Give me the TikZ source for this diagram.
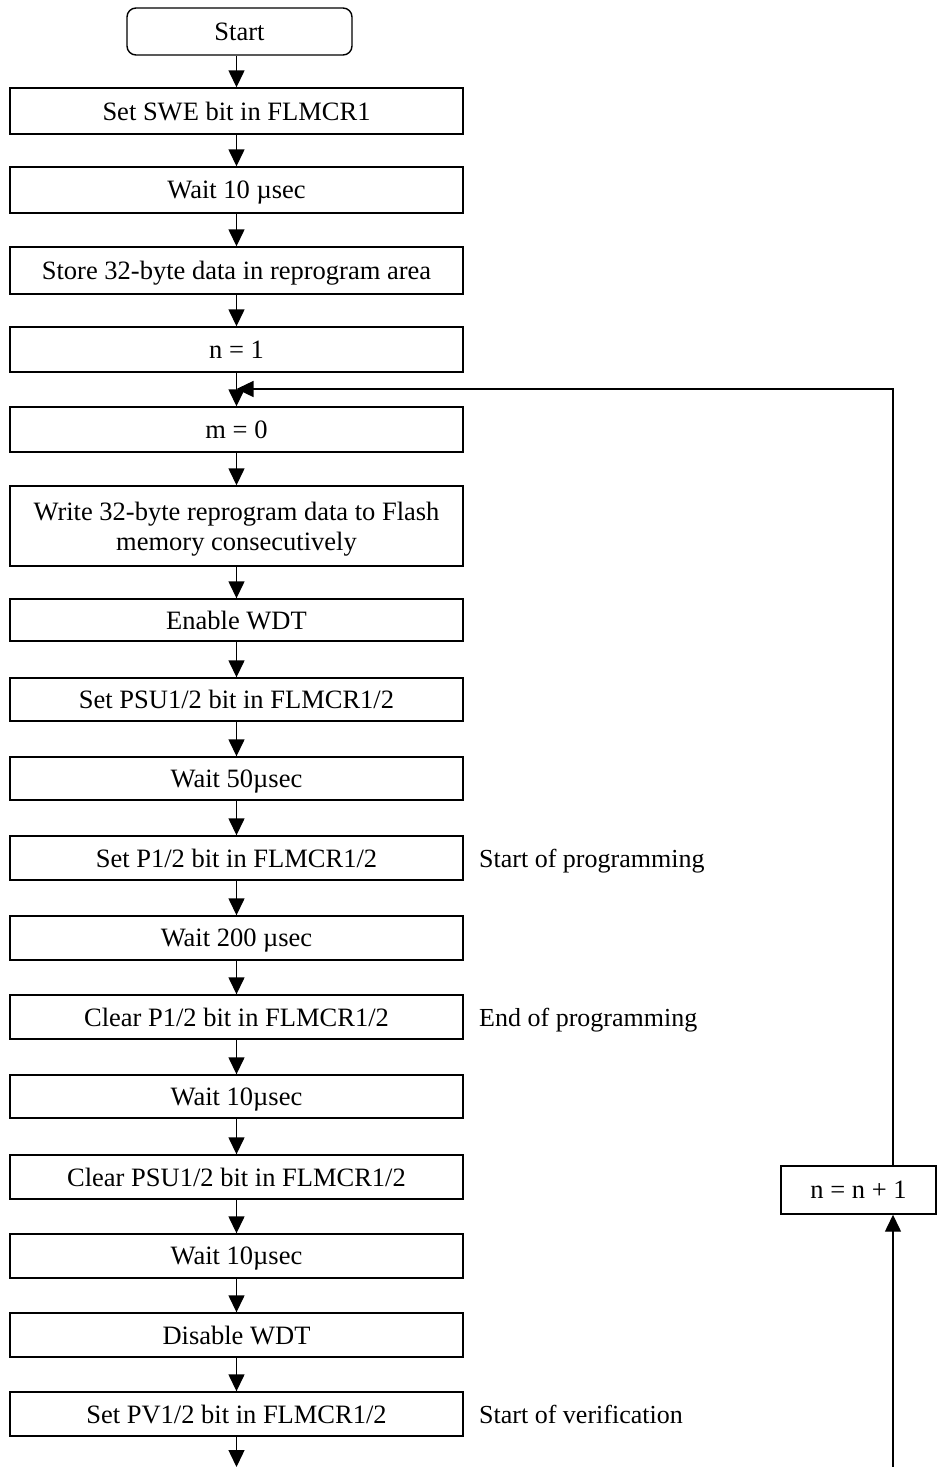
\documentclass[tikz,border=0pt]{standalone}
\usepackage{fontspec}
\setmainfont{Liberation Serif}
\usetikzlibrary{arrows.meta}
\begin{document}
\begin{tikzpicture}[x=1pt,y=-1pt,
  stepbox/.style={draw,line width=1.4pt,rectangle,minimum width=453pt,inner sep=0pt,
    font=\fontsize{26.5}{30}\selectfont,align=center,text depth=0pt},
  startbox/.style={draw,line width=1.4pt,rounded corners=9pt,minimum width=225pt,
    minimum height=47pt,inner sep=0pt,font=\fontsize{26.5}{30}\selectfont,text depth=0pt},
  note/.style={anchor=west,inner sep=0pt,font=\fontsize{26}{30}\selectfont,text depth=0pt},
  flow/.style={line width=1.4pt,-{Triangle[width=16pt,length=17pt]}}]
\useasboundingbox (0,0) rectangle (937,1467);

% main column
\node[startbox] (start) at (239.5,31.5) {Start};
\node[stepbox,minimum height=46pt] (swe) at (236.5,111) {Set SWE bit in FLMCR1};
\node[stepbox,minimum height=46pt] (w1) at (236.5,190) {Wait 10 µsec};
\node[stepbox,minimum height=47pt] (store) at (236.5,270.5) {Store 32-byte data in reprogram area};
\node[stepbox,minimum height=45pt] (n1) at (236.5,349.5) {n = 1};
\node[stepbox,minimum height=45pt] (m0) at (236.5,429.5) {m = 0};
\node[stepbox,minimum height=80pt] (write) at (236.5,526) {Write 32-byte reprogram data to Flash\\memory consecutively};
\node[stepbox,minimum height=42pt] (ewdt) at (236.5,620) {Enable WDT};
\node[stepbox,minimum height=43pt] (psu) at (236.5,699.5) {Set PSU1/2 bit in FLMCR1/2};
\node[stepbox,minimum height=43pt] (w50) at (236.5,778.5) {Wait 50µsec};
\node[stepbox,minimum height=44pt] (p) at (236.5,858) {Set P1/2 bit in FLMCR1/2};
\node[stepbox,minimum height=44pt] (w200) at (236.5,938) {Wait 200 µsec};
\node[stepbox,minimum height=44pt] (cp) at (236.5,1017) {Clear P1/2 bit in FLMCR1/2};
\node[stepbox,minimum height=43pt] (w2) at (236.5,1096.5) {Wait 10µsec};
\node[stepbox,minimum height=44pt] (cpsu) at (236.5,1177) {Clear PSU1/2 bit in FLMCR1/2};
\node[stepbox,minimum height=44pt] (w3) at (236.5,1256) {Wait 10µsec};
\node[stepbox,minimum height=44pt] (dwdt) at (236.5,1335) {Disable WDT};
\node[stepbox,minimum height=44pt] (pv) at (236.5,1414) {Set PV1/2 bit in FLMCR1/2};

% side notes
\node[note] (np) at (479,858) {Start of programming};
\node[note] (ne) at (479,1017) {End of programming};
\node[note] (nv) at (479,1414) {Start of verification};

% loop counter
\node[draw,line width=1.4pt,minimum width=155pt,minimum height=48pt,inner sep=0pt,
  font=\fontsize{26.5}{30}\selectfont,text depth=0pt] (inc) at (858.5,1190) {n = n + 1};

\coordinate (join) at (236.5,389);
\coordinate (outpv) at (236.5,1467);
\coordinate (inbot) at (893,1467);

% connectors
\foreach \a/\b in {start/swe,swe/w1,w1/store,store/n1,n1/m0,m0/write,write/ewdt,
  ewdt/psu,psu/w50,w50/p,p/w200,w200/cp,cp/w2,w2/cpsu,cpsu/w3,w3/dwdt,dwdt/pv}
  \draw[flow] (\a.south -| 236.5,0) -- (\b.north -| 236.5,0);
\draw[flow] (pv.south) -- (outpv);
\draw[flow] (inbot) -- (inbot |- inc.south);
\draw[flow] (inbot |- inc.north) |- (join);
\end{tikzpicture}
\end{document}
